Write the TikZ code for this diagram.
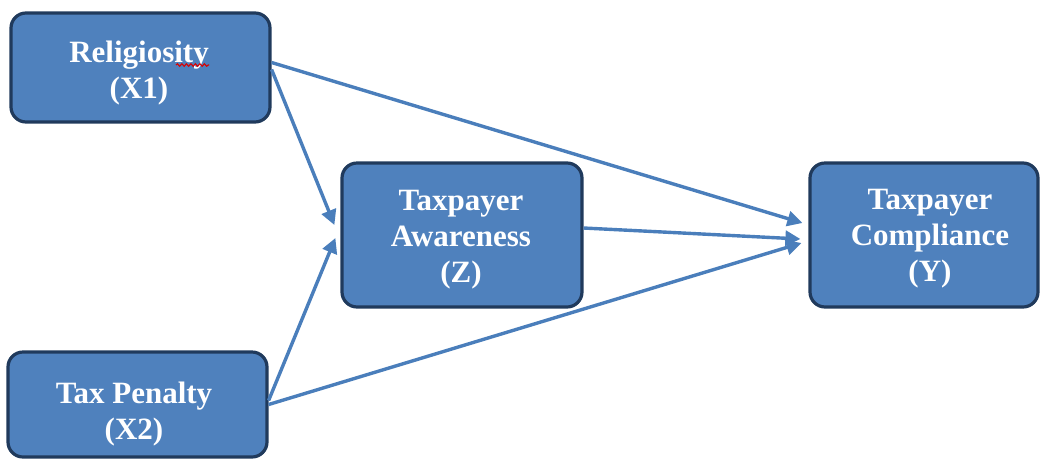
\documentclass[tikz,border=0pt]{standalone}
\usepackage{fontspec}
\setmainfont{Liberation Serif}
\usetikzlibrary{arrows.meta,decorations.pathmorphing}
\definecolor{boxfill}{HTML}{4F81BD}
\definecolor{boxline}{HTML}{203A5C}
\definecolor{arrowblue}{HTML}{4A7EBB}
\begin{document}
\begin{tikzpicture}[x=1pt,y=-1pt,
  box/.style={draw=boxline, fill=boxfill, line width=3.2pt, rounded corners=15pt, inner sep=0pt},
  txt/.style={text=white, font=\bfseries\fontsize{31}{36}\selectfont, align=center, inner sep=0pt},
  conn/.style={draw=arrowblue, line width=3.4pt, -{Triangle[length=15pt,width=15pt]}}]
\useasboundingbox (0,0) rectangle (1041,459);
% boxes
\node[box, minimum width=259pt, minimum height=109pt] (x1) at (140.5,67.5) {};
\node[box, minimum width=259pt, minimum height=105pt] (x2) at (137.5,404.5) {};
\node[box, minimum width=240pt, minimum height=144pt] (z) at (462,235) {};
\node[box, minimum width=228pt, minimum height=144pt] (y) at (924,235) {};
% texts
\node[txt] (t1) at (139,73.5) {Religiosity\\(X1)};
\node[txt] (t2) at (134,414) {Tax Penalty\\(X2)};
\node[txt] (tz) at (461,239.5) {Taxpayer\\Awareness\\(Z)};
\node[txt] (ty) at (930,239) {Taxpayer\\Compliance\\(Y)};
% spell-check squiggle
\draw[red!85!black, line width=1.1pt, decorate, decoration={snake, amplitude=1.3pt, segment length=4.5pt}] (176,65) -- (209,65);
% connectors
\draw[conn] ([yshift=5pt]x1.east) -- ([xshift=-6pt,yshift=12pt]y.west);
\draw[conn] ([yshift=-2pt]x1.east) -- ([xshift=-6pt,yshift=10pt]z.west);
\draw[conn] ([yshift=4pt]x2.east) -- ([xshift=-5pt,yshift=-3pt]z.west);
\draw[conn] ([yshift=0pt]x2.east) -- ([xshift=-7pt,yshift=-8pt]y.west);
\draw[conn] ([yshift=7pt]z.east) -- ([xshift=-8pt,yshift=-4pt]y.west);
\end{tikzpicture}
\end{document}
